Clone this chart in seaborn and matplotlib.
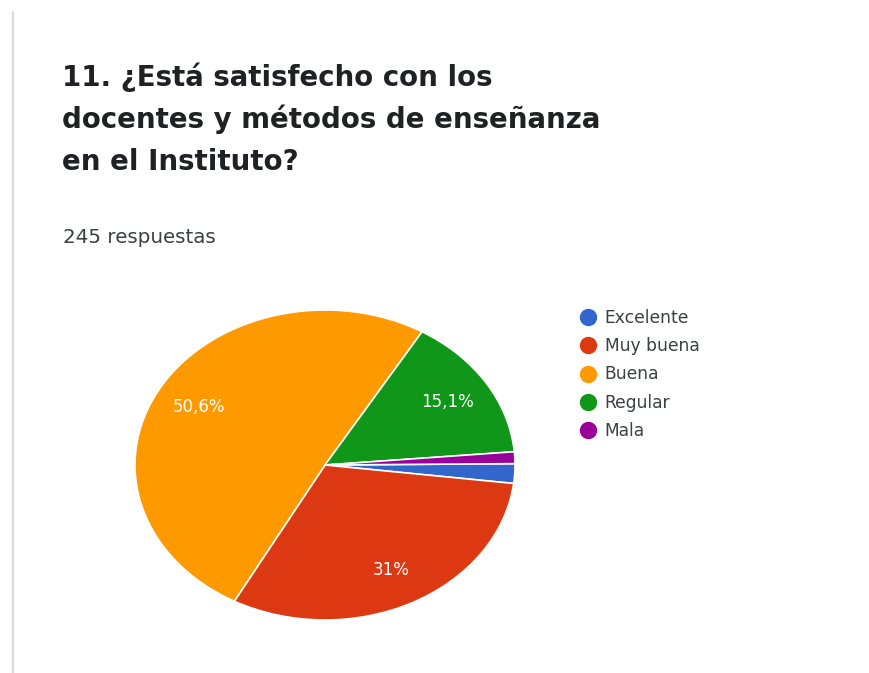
import matplotlib
matplotlib.use("Agg")
import matplotlib.pyplot as plt
from matplotlib.lines import Line2D
import seaborn as sns

# Survey answers (count of responses per option)
categories = ["Excelente", "Muy buena", "Buena", "Regular", "Mala"]
counts = [5, 76, 124, 37, 3]
colors = ["#3366CC", "#DC3912", "#FF9900", "#109618", "#990099"]

title_lines = ["11. ¿Está satisfecho con los",
               "docentes y métodos de enseñanza",
               "en el Instituto?"]
subtitle = "245 respuestas"

sns.set_theme(style="white")
plt.rcParams["font.family"] = ["DejaVu Sans"]

W, H = 869, 673
fig = plt.figure(figsize=(W / 100, H / 100), dpi=100)
fig.patch.set_facecolor("white")


def fx(px):
    return px / W


def fy(py):
    return 1 - py / H


# page edge on the left
fig.add_artist(Line2D([fx(13), fx(13)], [fy(12), fy(673)], color="#dcdcdc",
                      linewidth=1.6, transform=fig.transFigure))

# title and response count
for line, base in zip(title_lines, [86, 128, 170]):
    fig.text(fx(62), fy(base), line, fontsize=19.9, fontweight="bold",
             color="#202124", va="baseline", ha="left")
fig.text(fx(63), fy(243), subtitle, fontsize=14.3, color="#3c4043",
         va="baseline", ha="left")

# pie (stretched horizontally to an ellipse)
ax = fig.add_axes([fx(135), fy(620), fx(515) - fx(135), (620 - 310) / H])


def pct_label(p):
    if p < 5:
        return ""
    txt = f"{p:.1f}".replace(".", ",")
    if txt.endswith(",0"):
        txt = txt[:-2]
    return txt + "%"


wedges, texts, autotexts = ax.pie(
    counts, colors=colors, startangle=0.5, counterclock=False,
    autopct=pct_label, pctdistance=0.76,
    wedgeprops=dict(edgecolor="white", linewidth=1.2),
    textprops=dict(color="white", fontsize=12),
)
ax.set_aspect("auto")
ax.set_xlim(-1, 1)
ax.set_ylim(-1, 1)
ax.axis("off")

# legend
handles = [Line2D([0], [0], marker="o", linestyle="", markersize=11.5,
                  markerfacecolor=c, markeredgecolor=c) for c in colors]
leg = fig.legend(handles, categories, loc="upper left",
                 bbox_to_anchor=(fx(580), fy(309)), frameon=False,
                 borderpad=0, borderaxespad=0, handlelength=0.95,
                 handletextpad=0.5, labelspacing=0.6, fontsize=12.3)
for t in leg.get_texts():
    t.set_color("#3c4043")

fig.savefig("out.png", dpi=100, facecolor="white")
